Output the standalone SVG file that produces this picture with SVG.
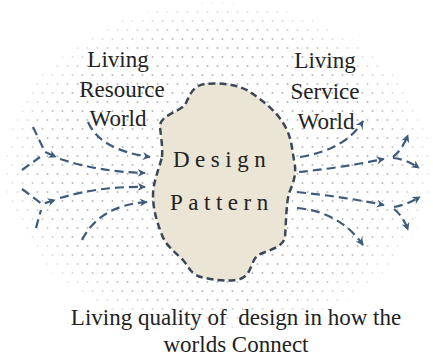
<svg xmlns="http://www.w3.org/2000/svg" width="433" height="360" viewBox="0 0 433 360">
<style>
.lbl{font-family:"Liberation Serif","DejaVu Serif",serif;font-size:23px;fill:#222;text-anchor:middle}
.core{font-family:"Liberation Serif","DejaVu Serif",serif;font-size:23px;fill:#222;letter-spacing:5.5px}
.cap{font-family:"Liberation Serif","DejaVu Serif",serif;font-size:23px;fill:#222;text-anchor:middle}
.flow{fill:none;stroke:#3e5b7c;stroke-width:2.2;stroke-dasharray:9 5}
.flowh{fill:none;stroke:#3e5b7c;stroke-width:2.2;stroke-dasharray:9 5;marker-end:url(#ah)}
</style>
<defs>
<pattern id="dots" width="10" height="18" patternUnits="userSpaceOnUse">
<circle cx="2.5" cy="3" r="1" fill="#b8b8b8"/>
<circle cx="7.5" cy="12" r="1" fill="#b8b8b8"/>
</pattern>
<radialGradient id="fade" cx="0.5" cy="0.5" r="0.5">
<stop offset="0.8" stop-color="#fff" stop-opacity="1"/>
<stop offset="1" stop-color="#fff" stop-opacity="0.25"/>
</radialGradient>
<mask id="m"><ellipse cx="218" cy="168" rx="214" ry="166" fill="url(#fade)"/></mask>
<marker id="ah" viewBox="0 0 10 10" refX="9" refY="5" markerWidth="10" markerHeight="8" markerUnits="userSpaceOnUse" orient="auto">
<path d="M0,0 L10,5 L0,10 L3,5 z" fill="#3e5b7c"/>
</marker>
</defs>
<rect width="433" height="360" fill="#fff"/>
<g id="background">
<ellipse cx="218" cy="168" rx="214" ry="166" fill="url(#dots)" mask="url(#m)"/>
</g>
<g id="design-pattern">
<path d="M162,157 C163,145 160,132 160,125 C162,115 178,112 185,105 C190,95 192,86 205,84 C220,82 240,85 250,92 C262,100 278,112 286,128 C292,140 292,150 294,160 C297,172 294,182 289,193 C286,205 286,225 285,237 C283,248 268,250 258,255 C250,262 252,275 240,279 C228,282 215,280 205,278 C190,275 190,268 183,260 C175,252 166,246 162,235 C157,222 153,210 153,195 C153,183 158,172 162,157 Z" fill="#ebe5d6" stroke="#3b4757" stroke-width="2.5" stroke-dasharray="7 4"/>
<text class="core" x="173" y="167">Design</text>
<text class="core" x="170" y="210">Pattern</text>
</g>
<g id="resource-world">
<text class="lbl" x="118" y="67">Living</text>
<text class="lbl" x="122" y="97">Resource</text>
<text class="lbl" x="118" y="126">World</text>
</g>
<g id="service-world">
<text class="lbl" x="325" y="68">Living</text>
<text class="lbl" x="325" y="99">Service</text>
<text class="lbl" x="326" y="129">World</text>
</g>
<g id="connectors">
<path class="flowh" d="M88,122 Q100,150 150,157"/>
<path class="flowh" d="M33,127 L45,152 L56,157"/>
<path class="flow" d="M22,170 L40,157"/>
<path class="flowh" d="M60,159 Q100,172 145,173"/>
<path class="flowh" d="M22,189 L42,204 L55,200"/>
<path class="flow" d="M36,228 L41,210"/>
<path class="flowh" d="M60,198 Q100,186 145,187"/>
<path class="flowh" d="M82,240 Q100,205 147,202"/>
<path class="flowh" d="M300,157 Q345,150 363,121"/>
<path class="flowh" d="M299,172 Q340,168 384,159"/>
<path class="flowh" d="M393,157 Q402,150 408,135"/>
<path class="flowh" d="M393,158 Q406,159 419,168"/>
<path class="flowh" d="M297,192 Q345,197 384,205"/>
<path class="flowh" d="M394,207 Q406,205 420,197"/>
<path class="flowh" d="M394,209 Q403,216 408,230"/>
<path class="flowh" d="M297,208 Q340,212 363,245"/>
</g>
<g id="caption">
<text class="cap" x="236" y="325" xml:space="preserve">Living quality of  design in how the</text>
<text class="cap" x="236" y="352">worlds Connect</text>
</g>
</svg>
